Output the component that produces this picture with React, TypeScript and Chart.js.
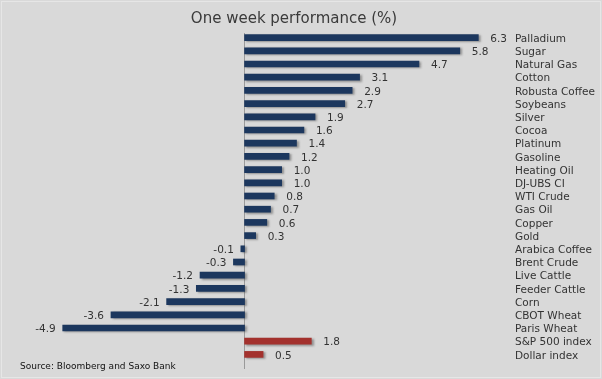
import React, { useEffect, useRef } from "react";
import { Chart, registerables } from "chart.js";

Chart.register(...registerables);

const categories = [
  "Palladium", "Sugar", "Natural Gas", "Cotton", "Robusta Coffee", "Soybeans",
  "Silver", "Cocoa", "Platinum", "Gasoline", "Heating Oil", "DJ-UBS CI",
  "WTI Crude", "Gas Oil", "Copper", "Gold", "Arabica Coffee", "Brent Crude",
  "Live Cattle", "Feeder Cattle", "Corn", "CBOT Wheat", "Paris Wheat",
  "S&P 500 index", "Dollar index",
];
const values = [
  6.3, 5.8, 4.7, 3.1, 2.9, 2.7, 1.9, 1.6, 1.4, 1.2, 1.0, 1.0, 0.8, 0.7, 0.6,
  0.3, -0.1, -0.3, -1.2, -1.3, -2.1, -3.6, -4.9, 1.8, 0.5,
];
const groups = [
  "c", "c", "c", "c", "c", "c", "c", "c", "c", "c", "c", "c", "c", "c", "c",
  "c", "c", "c", "c", "c", "c", "c", "c", "i", "i",
];
const titleText = "One week performance (%)";
const sourceText = "Source: Bloomberg and Saxo Bank";

const COLORS: Record<string, string> = { c: "#1c375e", i: "#a3312d" };
const FONT = "'DejaVu Sans', Verdana, sans-serif";

export default function App() {
  const ref = useRef<HTMLCanvasElement | null>(null);
  useEffect(() => {
    document.body.style.margin = "0";
    const canvas = ref.current!;
    const deco = {
      id: "deco",
      beforeDraw(chart: any) {
        const { ctx, width, height } = chart;
        ctx.save();
        ctx.fillStyle = "#d9d9d9";
        ctx.fillRect(0, 0, width, height);
        ctx.strokeStyle = "#e6e6e6";
        ctx.lineWidth = 1;
        ctx.strokeRect(1.5, 1.5, width - 3, height - 3);
        ctx.fillStyle = "#3a3a3a";
        ctx.font = `15px ${FONT}`;
        ctx.textAlign = "center";
        ctx.textBaseline = "middle";
        ctx.fillText(titleText, 294, 19);
        ctx.fillStyle = "#111";
        ctx.font = `9px ${FONT}`;
        ctx.textAlign = "left";
        ctx.fillText(sourceText, 20, 367);
        // zero line
        const x0 = Math.round(chart.scales.x.getPixelForValue(0)) - 0.5;
        ctx.strokeStyle = "#9a9a9a";
        ctx.beginPath();
        ctx.moveTo(x0, chart.chartArea.top + 2);
        ctx.lineTo(x0, chart.chartArea.bottom + 8);
        ctx.stroke();
        ctx.restore();
      },
      beforeDatasetDraw(chart: any) {
        const ctx = chart.ctx;
        ctx.save();
        ctx.shadowColor = "rgba(60,60,60,0.45)";
        ctx.shadowOffsetX = 2;
        ctx.shadowOffsetY = 1;
        ctx.shadowBlur = 2;
      },
      afterDatasetDraw(chart: any) {
        chart.ctx.restore();
      },
      afterDatasetsDraw(chart: any) {
        const { ctx } = chart;
        const meta = chart.getDatasetMeta(0);
        const xs = chart.scales.x;
        ctx.save();
        ctx.font = `10.5px ${FONT}`;
        ctx.fillStyle = "#333";
        ctx.textBaseline = "middle";
        meta.data.forEach((bar: any, i: number) => {
          const v = values[i];
          const px = xs.getPixelForValue(v);
          const txt = v.toFixed(1);
          if (v >= 0) {
            ctx.textAlign = "left";
            ctx.fillText(txt, px + 12, bar.y + 1.5);
          } else {
            ctx.textAlign = "right";
            ctx.fillText(txt, px - 7, bar.y + 1.5);
          }
        });
        ctx.restore();
      },
    };
    const chart = new Chart(canvas, {
      type: "bar",
      data: {
        labels: categories,
        datasets: [
          {
            data: values,
            backgroundColor: groups.map((g) => COLORS[g]),
            barThickness: 6,
            borderWidth: 0,
          },
        ],
      },
      options: {
        indexAxis: "y",
        responsive: false,
        animation: false,
        devicePixelRatio: 1,
        layout: { padding: { left: 59, right: 0, top: 31, bottom: 18 } },
        plugins: { legend: { display: false }, tooltip: { enabled: false }, title: { display: false } },
        scales: {
          x: { display: false, min: -5, max: 7.18 },
          y: {
            position: "right",
            grid: { display: false, drawTicks: false },
            border: { display: false },
            ticks: {
              padding: 4,
              color: "#333",
              autoSkip: false,
              labelOffset: 1.5,
              font: { family: FONT, size: 10.5 },
              crossAlign: "near",
            },
            afterFit(scale: any) {
              scale.width = 91;
            },
          },
        },
      },
      plugins: [deco],
    } as any);
    return () => chart.destroy();
  }, []);
  return (
    <div style={{ position: "fixed", left: 0, top: 0, width: 602, height: 379 }}>
      <canvas ref={ref} width={602} height={379} style={{ display: "block" }} />
    </div>
  );
}
